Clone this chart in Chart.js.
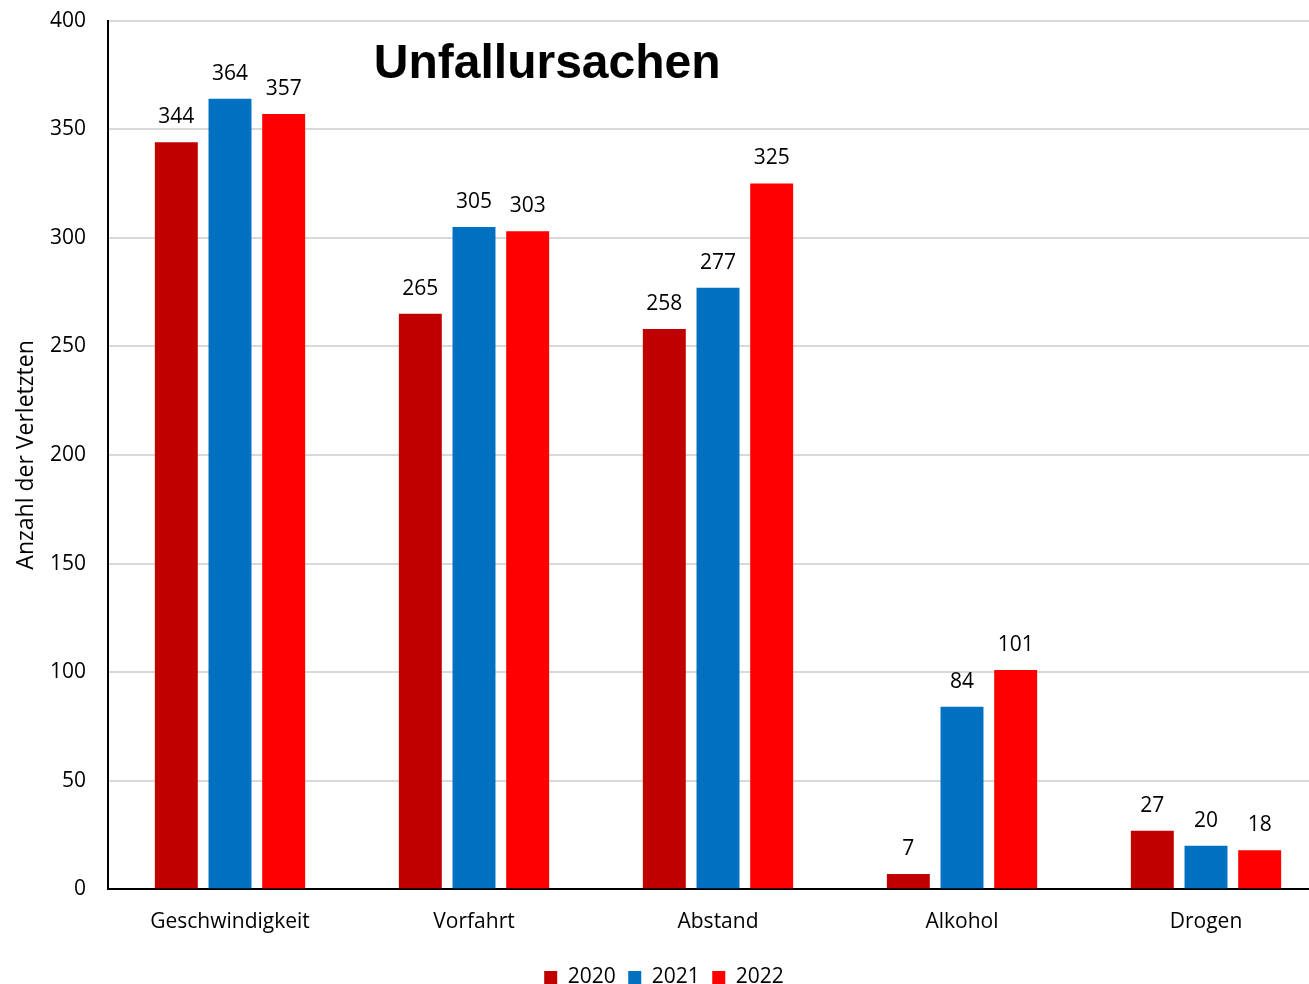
<!DOCTYPE html>
<html>
<head>
<meta charset="utf-8">
<script src="https://cdn.jsdelivr.net/npm/chart.js@4"></script>
<style>
  html, body { margin: 0; padding: 0; background: #fff; overflow: hidden; }
  #wrap { width: 1309px; height: 984px; overflow: hidden; position: relative; }
  #myChart { position: absolute; left: 0; top: -14px; }
</style>
</head>
<body>
<div id="wrap"><canvas id="myChart" width="1328" height="1012"></canvas></div>
<script>
// Kategorien und Werte
const categories = ['Geschwindigkeit', 'Vorfahrt', 'Abstand', 'Alkohol', 'Drogen'];
const years = ['2020', '2021', '2022'];
const values2020 = [344, 265, 258, 7, 27];
const values2021 = [364, 305, 277, 84, 20];
const values2022 = [357, 303, 325, 101, 18];
const colors = ['#C00000', '#0070C0', '#FF0000'];

const FONT = '"Open Sans", "DejaVu Sans", sans-serif';

// Zahlen über den Balken
const valueLabels = {
    id: 'valueLabels',
    afterDatasetsDraw(chart) {
        const ctx = chart.ctx;
        ctx.save();
        ctx.font = '21px ' + FONT;
        ctx.fillStyle = '#000';
        ctx.textAlign = 'center';
        ctx.textBaseline = 'alphabetic';
        chart.data.datasets.forEach((ds, i) => {
            chart.getDatasetMeta(i).data.forEach((bar, j) => {
                ctx.fillText(ds.data[j], bar.x, bar.y - 19);
            });
        });
        ctx.restore();
    }
};

// Titel innerhalb der Zeichenfläche
const innerTitle = {
    id: 'innerTitle',
    afterDraw(chart) {
        const a = chart.chartArea;
        const ctx = chart.ctx;
        ctx.save();
        ctx.font = 'bold 48px "Liberation Sans", Arial, sans-serif';
        ctx.fillStyle = '#000';
        ctx.textAlign = 'center';
        ctx.textBaseline = 'alphabetic';
        ctx.fillText('Unfallursachen', a.left + (a.right - a.left) * 0.36, a.top + 57);
        ctx.restore();
    }
};

new Chart(document.getElementById('myChart'), {
    type: 'bar',
    data: {
        labels: categories,
        datasets: [
            { label: years[0], data: values2020, backgroundColor: colors[0] },
            { label: years[1], data: values2021, backgroundColor: colors[1] },
            { label: years[2], data: values2022, backgroundColor: colors[2] }
        ]
    },
    options: {
        responsive: false,
        animation: false,
        categoryPercentage: 0.66,
        barPercentage: 0.8,
        layout: { padding: { top: 0, right: 0, left: 0, bottom: 0 } },
        plugins: {
            legend: {
                position: 'bottom',
                labels: {
                    boxWidth: 13,
                    boxHeight: 13,
                    padding: 12.5,
                    color: '#000',
                    font: { family: FONT, size: 21 }
                }
            },
            tooltip: { enabled: false }
        },
        scales: {
            x: {
                grid: { display: false, drawTicks: false },
                border: { color: '#000', width: 2 },
                ticks: { color: '#000', padding: 20, font: { family: FONT, size: 21 } }
            },
            y: {
                min: 0,
                max: 400,
                afterFit(scale) { scale.width = 108; },
                ticks: { stepSize: 50, color: '#000', padding: 22, font: { family: FONT, size: 21 } },
                grid: { color: '#d9d9d9', lineWidth: 2, drawTicks: false },
                border: { color: '#000', width: 2 },
                title: {
                    display: true,
                    text: 'Anzahl der Verletzten',
                    color: '#000',
                    font: { family: FONT, size: 23 },
                    padding: { top: 13, bottom: 0 }
                }
            }
        }
    },
    plugins: [valueLabels, innerTitle]
});
</script>
</body>
</html>
